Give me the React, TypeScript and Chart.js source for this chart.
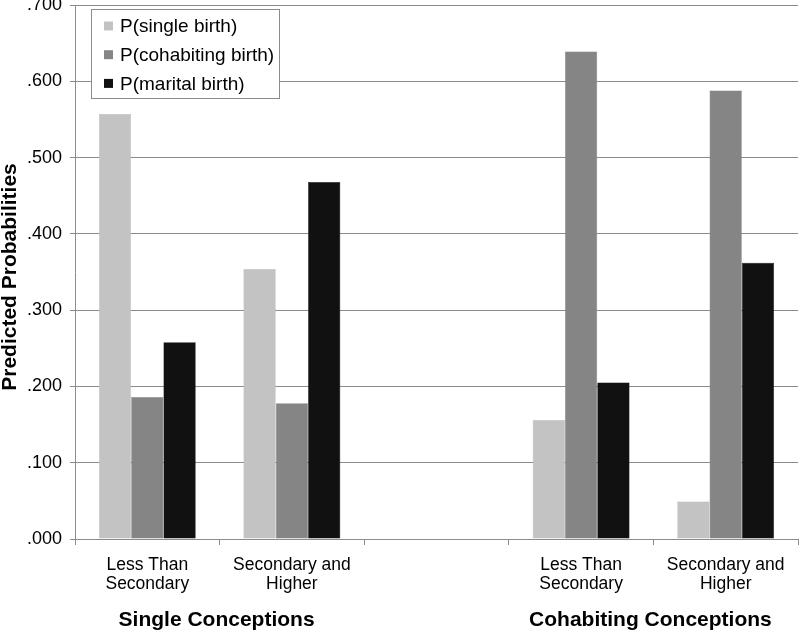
import React, { useEffect, useRef } from "react";
import { Chart, registerables } from "chart.js";

Chart.register(...registerables);

const categories: (string | string[])[] = [
  ["Less Than", "Secondary"],
  ["Secondary and", "Higher"],
  "",
  ["Less Than", "Secondary"],
  ["Secondary and", "Higher"],
];
const seriesNames = ["P(single birth)", "P(cohabiting birth)", "P(marital birth)"];
const singleBirth = [0.557, 0.354, null, 0.156, 0.049];
const cohabitingBirth = [0.186, 0.178, null, 0.639, 0.588];
const maritalBirth = [0.258, 0.468, null, 0.205, 0.362];
const seriesColors = ["#c3c3c3", "#858585", "#111111"];
const groupLabels = ["Single Conceptions", "Cohabiting Conceptions"];
const groupCenters = [0.5, 3.5];
const yTitle = "Predicted Probabilities";

const FONT = "'Liberation Sans', Arial, sans-serif";
const GRID = "#8c8c8c";

export default function App() {
  const ref = useRef<HTMLCanvasElement | null>(null);

  useEffect(() => {
    document.body.style.margin = "0";
    const canvas = ref.current;
    if (!canvas) return;

    const extras = {
      id: "extras",
      afterDraw(chart: any) {
        const ctx = chart.ctx;
        const area = chart.chartArea;
        const xs = chart.scales.x;
        ctx.save();
        // group labels
        ctx.fillStyle = "#000";
        ctx.font = `bold 21px ${FONT}`;
        ctx.textAlign = "center";
        ctx.textBaseline = "middle";
        groupLabels.forEach((g, i) => {
          ctx.fillText(g, xs.getPixelForValue(groupCenters[i]) - 3, 620);
        });
        // y title
        ctx.save();
        ctx.translate(10, (area.top + area.bottom) / 2 + 5);
        ctx.rotate(-Math.PI / 2);
        ctx.font = `bold 21px ${FONT}`;
        ctx.fillText(yTitle, 0, 0);
        ctx.restore();
        // legend
        const lx = 91.5, ly = 9.5, lw = 188, lh = 89;
        ctx.fillStyle = "#fff";
        ctx.fillRect(lx, ly, lw, lh);
        ctx.strokeStyle = GRID;
        ctx.lineWidth = 1;
        ctx.strokeRect(lx, ly, lw, lh);
        ctx.font = `19px ${FONT}`;
        ctx.textAlign = "left";
        chart.data.datasets.forEach((ds: any, i: number) => {
          const cy = 26 + i * 28.7;
          ctx.fillStyle = ds.backgroundColor;
          ctx.fillRect(104, cy - 4.5, 9, 9);
          ctx.fillStyle = "#000";
          ctx.fillText(ds.label, 120, cy + 1);
        });
        ctx.restore();
      },
    };

    const chart = new Chart(canvas, {
      type: "bar",
      data: {
        labels: categories,
        datasets: [
          { label: seriesNames[0], data: singleBirth, backgroundColor: seriesColors[0], borderColor: "#b0b0b0", borderWidth: 0.5 },
          { label: seriesNames[1], data: cohabitingBirth, backgroundColor: seriesColors[1], borderColor: "#777", borderWidth: 0.5 },
          { label: seriesNames[2], data: maritalBirth, backgroundColor: seriesColors[2], borderColor: "#000", borderWidth: 0.5 },
        ] as any,
      },
      options: {
        responsive: false,
        animation: false,
        layout: { padding: { top: 5, right: 2, left: 0, bottom: 0 } },
        datasets: { bar: { categoryPercentage: 0.67, barPercentage: 1.0 } },
        plugins: { legend: { display: false }, tooltip: { enabled: false } },
        scales: {
          x: {
            grid: { drawOnChartArea: false, drawTicks: true, tickLength: 6, offset: true, color: GRID },
            border: { color: GRID, width: 1 },
            ticks: {
              color: "#000",
              font: { family: FONT, size: 17.5, lineHeight: 1.12 },
              padding: 10,
              maxRotation: 0,
              autoSkip: false,
            },
            afterFit(s: any) {
              s.height = 91;
              s.paddingLeft = 0;
              s.paddingRight = 0;
            },
          },
          y: {
            min: 0,
            max: 0.7,
            ticks: {
              stepSize: 0.1,
              color: "#000",
              font: { family: FONT, size: 18 },
              padding: 8,
              callback: (v: any) => Number(v).toFixed(3).replace(/^0/, ""),
            },
            grid: { color: GRID, tickLength: 5, drawTicks: true },
            border: { color: GRID, width: 1 },
            afterFit(s: any) {
              s.width = 75;
              s.paddingTop = 0;
              s.paddingBottom = 0;
            },
          },
        },
      },
      plugins: [extras],
    });
    return () => chart.destroy();
  }, []);

  return (
    <div style={{ width: 800, height: 630 }}>
      <canvas ref={ref} width={800} height={630} />
    </div>
  );
}
